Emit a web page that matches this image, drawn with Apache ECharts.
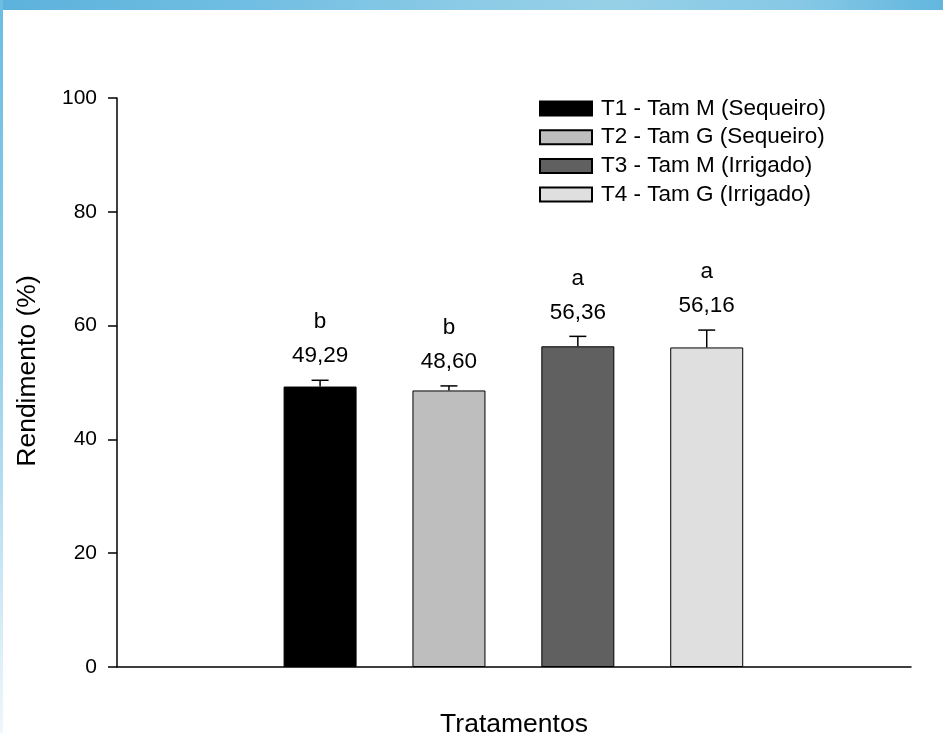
<!DOCTYPE html>
<html>
<head>
<meta charset="utf-8">
<script src="https://cdn.jsdelivr.net/npm/echarts@6/dist/echarts.min.js"></script>
<style>
  html, body { margin: 0; padding: 0; background: #ffffff; width: 943px; height: 733px; overflow: hidden; position: relative; }
  #topStrip { position: absolute; left: 0; top: 0; width: 943px; height: 10px;
    background: linear-gradient(90deg, #5cb2dc 0%, #6fbde2 25%, #8ccbe6 50%, #96d0e7 65%, #86c8e6 85%, #62b6de 100%); }
  #leftStrip { position: absolute; left: 0; top: 0; width: 3px; height: 733px;
    background: linear-gradient(180deg, #6cbde3 0%, #86cbe9 40%, #c4e4f3 75%, #eef7fc 100%); }
  #chart { position: absolute; left: 0; top: 0; width: 943px; height: 733px; }
</style>
</head>
<body>
<div id="topStrip"></div>
<div id="leftStrip"></div>
<div id="chart"></div>
<script>
const categories = ['T1 - Tam M (Sequeiro)', 'T2 - Tam G (Sequeiro)', 'T3 - Tam M (Irrigado)', 'T4 - Tam G (Irrigado)'];
const positions = [1, 2, 3, 4];
const values = [49.29, 48.60, 56.36, 56.16];
const errors = [1.1, 0.8, 1.75, 3.05];
const letters = ['b', 'b', 'a', 'a'];
const colors = ['#000000', '#bebebe', '#606060', '#dfdfdf'];
const yTicks = { min: 0, max: 100, interval: 20 };

const FONT = '"Liberation Sans", Arial, sans-serif';

const chart = echarts.init(document.getElementById('chart'), null, { renderer: 'canvas' });

const barSeries = categories.map((name, i) => ({
  name: name,
  type: 'bar',
  stack: 'all',
  barWidth: 73,
  data: [[positions[i], values[i]]],
  itemStyle: { color: colors[i], borderColor: '#000', borderWidth: 1 },
  z: 2
}));

const errData = values.map((v, i) => [positions[i], v, errors[i], i]);

const errSeries = {
  type: 'custom',
  name: 'err',
  data: errData,
  z: 5,
  renderItem: function (params, api) {
    const x = api.value(0), v = api.value(1), e = api.value(2), idx = api.value(3);
    const base = api.coord([x, v]);
    const top = api.coord([x, v + e]);
    const cap = 8.5;
    const valText = values[idx].toFixed(2).replace('.', ',');
    return {
      type: 'group',
      children: [
        { type: 'line', shape: { x1: base[0], y1: base[1], x2: top[0], y2: top[1] }, style: { stroke: '#000', lineWidth: 1.5 } },
        { type: 'line', shape: { x1: top[0] - cap, y1: top[1], x2: top[0] + cap, y2: top[1] }, style: { stroke: '#000', lineWidth: 1.5 } },
        { type: 'text', x: top[0], y: top[1] - 24, style: { text: valText, font: '22.5px ' + FONT, fill: '#000', align: 'center', verticalAlign: 'middle' } },
        { type: 'text', x: top[0], y: top[1] - 58, style: { text: letters[idx], font: '22.5px ' + FONT, fill: '#000', align: 'center', verticalAlign: 'middle' } }
      ]
    };
  }
};

chart.setOption({
  backgroundColor: 'transparent',
  animation: false,
  textStyle: { fontFamily: FONT },
  grid: { left: 117, right: 32, top: 98, bottom: 66, containLabel: false, outerBoundsMode: 'none' },
  legend: {
    data: categories,
    orient: 'vertical',
    left: 534,
    top: 92,
    itemWidth: 52,
    itemHeight: 14,
    itemGap: 5.7,
    icon: 'rect',
    textStyle: { fontFamily: FONT, fontSize: 22.5, color: '#000', lineHeight: 21, padding: [0, 0, 0, 4] },
    selectedMode: false
  },
  xAxis: {
    type: 'value',
    min: -0.5757,
    max: 5.585,
    name: 'Tratamentos',
    nameLocation: 'middle',
    nameGap: 44,
    nameMoveOverlap: false,
    nameTextStyle: { fontFamily: FONT, fontSize: 26.5, color: '#000' },
    axisLine: { show: true, onZero: false, lineStyle: { color: '#000', width: 1.5 } },
    axisTick: { show: false },
    axisLabel: { show: false },
    splitLine: { show: false }
  },
  yAxis: {
    type: 'value',
    min: yTicks.min,
    max: yTicks.max,
    interval: yTicks.interval,
    name: 'Rendimento (%)',
    nameLocation: 'middle',
    nameGap: 76,
    nameMoveOverlap: false,
    nameTextStyle: { fontFamily: FONT, fontSize: 26.5, color: '#000', padding: [0, 0, 0, 23] },
    axisLine: { show: true, onZero: false, lineStyle: { color: '#000', width: 1.5 } },
    axisTick: { show: true, inside: false, length: 9, lineStyle: { color: '#000', width: 1.5 } },
    axisLabel: { fontFamily: FONT, fontSize: 21, color: '#000', margin: 20 },
    splitLine: { show: false }
  },
  series: barSeries.concat([errSeries])
});
</script>
</body>
</html>
